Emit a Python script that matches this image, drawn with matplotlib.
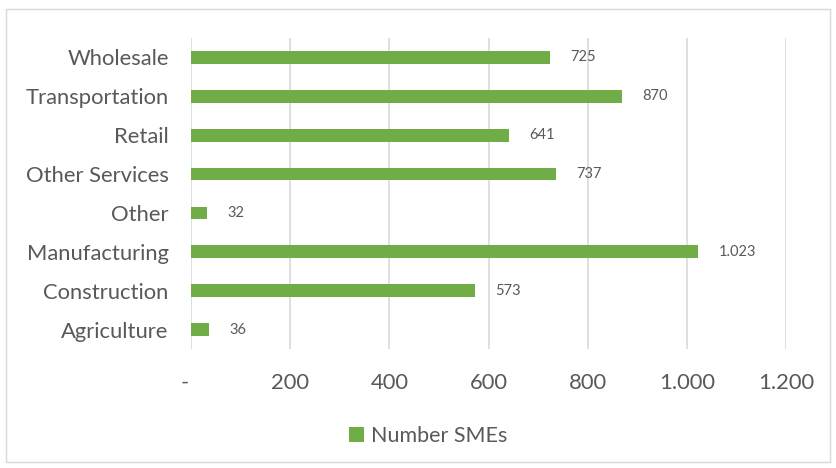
import matplotlib.pyplot as plt
from matplotlib.ticker import FuncFormatter
from matplotlib.patches import Rectangle

plt.rcParams['font.family'] = ['Lato', 'DejaVu Sans']

sectors = ['Agriculture', 'Construction', 'Manufacturing', 'Other',
           'Other Services', 'Retail', 'Transportation', 'Wholesale']
smes = [36, 573, 1023, 32, 737, 641, 870, 725]
xticks = [0, 200, 400, 600, 800, 1000, 1200]

green = '#70AD47'
txt = '#595959'
grid = '#D9D9D9'


def fmt(v, pos=None):
    if v == 0:
        return '-  '  # excel puts the dash a bit left of the axis
    return '{:,.0f}'.format(v).replace(',', '.')


fig = plt.figure(figsize=(8.37, 4.68), dpi=100)
ax = fig.add_axes([191 / 837, 1 - 349 / 468, (786 - 191) / 837, (349 - 38) / 468])

ax.barh(range(len(sectors)), smes, height=0.33, color=green, zorder=3)
for i, v in enumerate(smes):
    ax.annotate(fmt(v), (v, i), xytext=(14.5, 0), textcoords='offset points',
                va='center', ha='left', fontsize=10.5, color=txt)

ax.set_xlim(0, 1200)
ax.set_ylim(-0.5, len(sectors) - 0.5)
ax.set_xticks(xticks)
ax.xaxis.set_major_formatter(FuncFormatter(fmt))
ax.set_yticks(range(len(sectors)))
ax.set_yticklabels(sectors)
ax.tick_params(axis='both', length=0, labelsize=15.8, colors=txt)
ax.tick_params(axis='x', pad=17)
ax.tick_params(axis='y', pad=16)
ax.grid(axis='x', color=grid, linewidth=1.2, zorder=0)
for s in ax.spines.values():
    s.set_visible(False)

leg = fig.legend(['Number SMEs'], loc='center left', bbox_to_anchor=(349 / 837, 1 - 436 / 468),
                 frameon=False, fontsize=15.5, handlelength=0.7, handleheight=0.7,
                 handletextpad=0.3, labelcolor=txt, borderpad=0, borderaxespad=0)

fig.patches.append(Rectangle((6 / 837, 1 - 462 / 468), 824 / 837, 453 / 468,
                             transform=fig.transFigure, fill=False,
                             edgecolor='#D9D9D9', linewidth=1))

fig.savefig('out.png', dpi=100)
